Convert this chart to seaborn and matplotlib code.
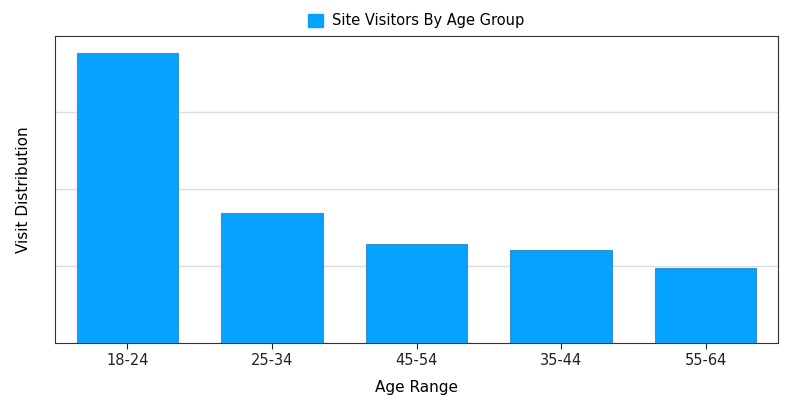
import matplotlib
matplotlib.use("Agg")
import matplotlib.pyplot as plt
import seaborn as sns
import pandas as pd
from matplotlib.patches import Patch

categories = ["18-24", "25-34", "45-54", "35-44", "55-64"]
values = [3.77, 1.69, 1.29, 1.21, 0.97]
series_name = "Site Visitors By Age Group"

df = pd.DataFrame({"Age Range": categories, "Visit Distribution": values})

fig = plt.figure(figsize=(8, 4.03), dpi=100)
ax = fig.add_axes([55/800, 1-343/403, (778-55)/800, (343-36)/403])
sns.barplot(data=df, x="Age Range", y="Visit Distribution", color="#06a2ff",
            width=0.7, edgecolor="#3a8fd0", linewidth=0.8, saturation=1, ax=ax, zorder=3)
ax.set_ylim(0, 3.99)
ax.set_yticks([1, 2, 3])
ax.set_yticklabels([])
ax.tick_params(axis="y", length=0)
ax.tick_params(axis="x", length=4, labelsize=10.5, colors="#222")
ax.grid(axis="y", color="#dddddd", linewidth=1, zorder=0)
for s in ax.spines.values():
    s.set_color("#333")
    s.set_linewidth(0.8)
ax.set_xlabel("Age Range", fontsize=11, labelpad=8)
ax.set_ylabel("Visit Distribution", fontsize=11, labelpad=14)
fig.legend(handles=[Patch(color="#06a2ff", label=series_name)], loc="upper center",
           bbox_to_anchor=(0.52, 1.0), frameon=False, fontsize=10.5,
           handlelength=1, handleheight=1, handletextpad=0.6)
fig.savefig("out.png", dpi=100)
